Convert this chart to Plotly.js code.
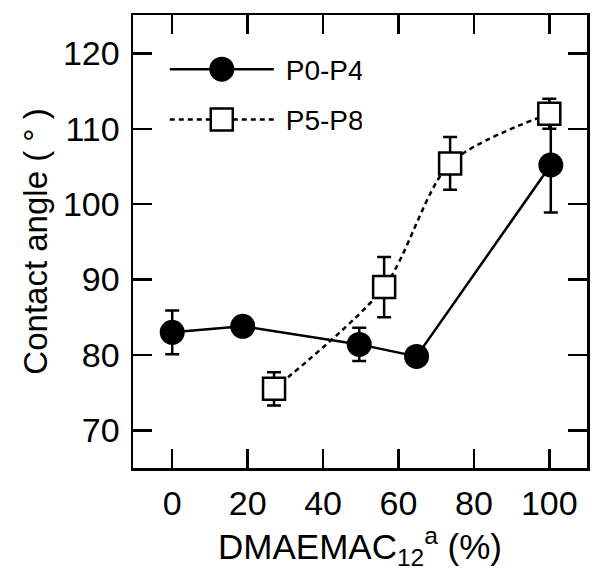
<!DOCTYPE html>
<html>
<head>
<meta charset="utf-8">
<script src="https://cdn.plot.ly/plotly-3.0.1.min.js"></script>
<style>html,body{margin:0;padding:0;background:#fff;}#chart{width:600px;height:580px;}</style>
</head>
<body>
<div id="chart"></div>
<script>
// Data
const seriesNames = ["P0-P4", "P5-P8"];
const p04_x = [0, 18.7, 49.6, 64.8, 100.4];
const p04_y = [83.0, 83.8, 81.4, 79.8, 105.2];
const p04_err = [2.9, 1.0, 2.2, 1.0, 6.3];
const p58_x = [27.0, 56.2, 73.7, 100.0];
const p58_y = [75.5, 89.0, 105.4, 112.0];
const p58_err = [2.2, 4.0, 3.5, 2.0];
const xTicks = [0, 20, 40, 60, 80, 100];
const yTicks = [70, 80, 90, 100, 110, 120];

const FONT = "Liberation Sans, Arial, Helvetica, sans-serif";

const traces = [
  {
    x: p04_x, y: p04_y, name: seriesNames[0], type: "scatter", mode: "lines+markers",
    line: {color: "#000", width: 2.5},
    marker: {symbol: "circle", size: 25, color: "#000"},
    error_y: {type: "data", array: p04_err, visible: true, color: "#000", thickness: 2.5, width: 7},
    legendgroup: "a"
  },
  {
    x: p58_x, y: p58_y, name: seriesNames[1], type: "scatter", mode: "lines+markers",
    line: {color: "#000", width: 2.5, dash: "5px,4px", shape: "spline", smoothing: 0.8},
    marker: {symbol: "square", size: 22, color: "#fff", line: {color: "#000", width: 2.5}},
    error_y: {type: "data", array: p58_err, visible: true, color: "#000", thickness: 2.5, width: 7},
    legendgroup: "b"
  }
];

const axisCommon = {
  showline: true, linecolor: "#000", linewidth: 2.5, mirror: "ticks",
  ticks: "inside", ticklen: 19, tickwidth: 2.5, tickcolor: "#000",
  showgrid: false, zeroline: false,
  tickfont: {family: FONT, size: 34, color: "#000"}
};

const layout = {
  width: 600, height: 580,
  margin: {l: 133, r: 13, t: 15, b: 112},
  paper_bgcolor: "#fff", plot_bgcolor: "#fff",
  font: {family: FONT, color: "#000"},
  showlegend: true,
  legend: {
    x: 0.07, y: 0.935, xanchor: "left", yanchor: "top",
    font: {family: FONT, size: 28, color: "#000"},
    bgcolor: "rgba(0,0,0,0)", borderwidth: 0,
    itemwidth: 104, tracegroupgap: 11
  },
  xaxis: Object.assign({}, axisCommon, {
    range: [-10.4, 110], tickvals: xTicks, ticktext: xTicks.map(String),
    ticklabelstandoff: 4,
    title: {text: "DMAEMAC<sub>12</sub><sup>a</sup> (%)", font: {family: FONT, size: 35, color: "#000"}, standoff: 2}
  }),
  yaxis: Object.assign({}, axisCommon, {
    range: [65, 125.1], tickvals: yTicks, ticktext: yTicks.map(String),
    ticklabelstandoff: 4,
    title: {text: "Contact angle ( ° )", font: {family: FONT, size: 33, color: "#000"}, standoff: 6}
  })
};

const gd = document.getElementById("chart");
Plotly.newPlot(gd, traces, layout, {displayModeBar: false, staticPlot: true}).then(function () {
  // enlarge legend symbols to match the plotted markers
  const scales = [25 / 16, 22 / 16];
  gd.querySelectorAll(".legend .traces").forEach(function (tr, i) {
    tr.querySelectorAll(".legendpoints path.scatterpts").forEach(function (p) {
      const t = p.getAttribute("transform") || "";
      p.setAttribute("transform", t + " scale(" + scales[i] + ")");
      p.style.vectorEffect = "non-scaling-stroke";
    });
    const txt = tr.querySelector("text.legendtext");
    if (txt) {
      const x0 = parseFloat(txt.getAttribute("x") || "0");
      txt.setAttribute("x", x0 + 7);
    }
  });
});
</script>
</body>
</html>
